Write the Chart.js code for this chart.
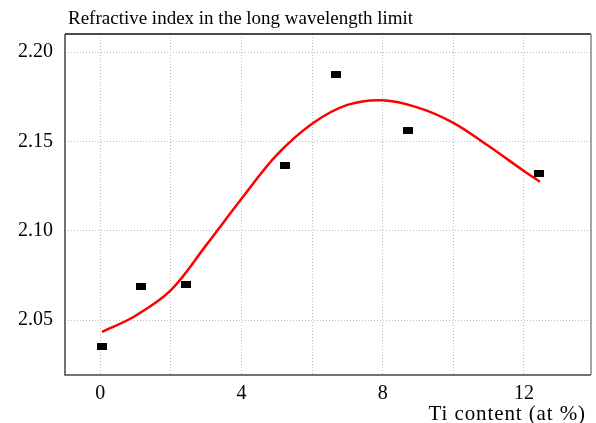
<!DOCTYPE html>
<html>
<head>
<meta charset="utf-8">
<script src="https://cdn.jsdelivr.net/npm/chart.js@4/dist/chart.umd.min.js"></script>
<style>
html,body{margin:0;padding:0;background:#fff;}
#wrap{width:596px;height:423px;position:relative;}
</style>
</head>
<body>
<div id="wrap"><canvas id="c" width="596" height="423"></canvas></div>
<script>
// Measured data points
const tiContent = [0.05, 1.16, 2.43, 5.23, 6.68, 8.71, 12.44];
const refractiveIndex = [2.035, 2.069, 2.070, 2.1365, 2.1878, 2.156, 2.132];

// Fitted curve
const fitX = [0.05, 1, 2, 3, 4, 5, 6, 7, 8, 9, 10, 11, 12, 12.45];
const fitY = [2.0434, 2.0525, 2.0668, 2.0920, 2.1180, 2.1425, 2.1600, 2.1705, 2.1731, 2.1690, 2.1605, 2.1475, 2.1335, 2.1275];

// Tick labels / grid positions
const xGridTicks = [0, 2, 4, 6, 8, 10, 12];
const xLabelTicks = [0, 4, 8, 12];
const yTicks = [2.05, 2.10, 2.15, 2.20];

const chartTitle = 'Refractive index in the long wavelength limit';
const xAxisTitle = 'Ti content (at %)';

const FONT = '"Liberation Serif", "Times New Roman", serif';

// marker: small black rectangle
const marker = document.createElement('canvas');
marker.width = 10; marker.height = 7;
(function(){ const g = marker.getContext('2d'); g.fillStyle = '#000'; g.fillRect(0,0,10,7); })();

const boxPlugin = {
  id: 'box',
  afterDraw(chart) {
    const {ctx, chartArea: a} = chart;
    ctx.save();
    ctx.setLineDash([]);
    ctx.lineWidth = 1.5;
    ctx.strokeStyle = '#444';
    ctx.beginPath();
    ctx.moveTo(a.left, a.top); ctx.lineTo(a.left, a.bottom); ctx.lineTo(a.right, a.bottom);
    ctx.stroke();
    ctx.strokeStyle = '#111';
    ctx.beginPath(); ctx.moveTo(a.left, a.top); ctx.lineTo(a.right, a.top); ctx.stroke();
    ctx.strokeStyle = '#888';
    ctx.beginPath(); ctx.moveTo(a.right, a.top); ctx.lineTo(a.right, a.bottom); ctx.stroke();
    // titles
    ctx.fillStyle = '#000';
    ctx.font = '19px ' + FONT;
    ctx.textAlign = 'left';
    ctx.textBaseline = 'alphabetic';
    ctx.fillText(chartTitle, 68, 24);
    ctx.font = '21px ' + FONT;
    try { ctx.letterSpacing = '0.9px'; } catch (e) {}
    ctx.textAlign = 'right';
    ctx.fillText(xAxisTitle, 586, 420);
    ctx.restore();
  }
};

const data = {
  datasets: [
    {
      type: 'line',
      label: 'fit',
      data: fitX.map((x, i) => ({x, y: fitY[i]})),
      borderColor: '#ff0000',
      borderWidth: 2.5,
      pointRadius: 0,
      fill: false,
      tension: 0.35,
      order: 2
    },
    {
      type: 'scatter',
      label: 'data',
      data: tiContent.map((x, i) => ({x, y: refractiveIndex[i]})),
      pointStyle: marker,
      backgroundColor: '#000',
      borderColor: '#000',
      order: 1
    }
  ]
};

new Chart(document.getElementById('c'), {
  data,
  plugins: [boxPlugin],
  options: {
    responsive: false,
    animation: false,
    events: [],
    layout: {padding: {top: 34, right: 2, left: 0, bottom: 0}},
    plugins: {legend: {display: false}, tooltip: {enabled: false}, title: {display: false}},
    scales: {
      x: {
        type: 'linear',
        min: -1, max: 13.9,
        afterBuildTicks(s) { s.ticks = xGridTicks.map(v => ({value: v})); },
        afterFit(s) { s.height = 48; },
        border: {display: false, dash: [1, 2]},
        grid: {color: '#bdbdbd', lineWidth: 1, drawTicks: false},
        ticks: {
          color: '#000',
          font: {family: FONT, size: 20},
          padding: 7,
          maxRotation: 0,
          autoSkip: false,
          callback(v) { return xLabelTicks.includes(v) ? String(v) : ''; }
        }
      },
      y: {
        type: 'linear',
        min: 2.0193, max: 2.2102,
        afterBuildTicks(s) { s.ticks = yTicks.map(v => ({value: v})); },
        afterFit(s) { s.width = 65; },
        border: {display: false, dash: [1, 2]},
        grid: {color: '#bdbdbd', lineWidth: 1, drawTicks: false},
        ticks: {
          color: '#000',
          font: {family: FONT, size: 20},
          padding: 12,
          callback(v) { return v.toFixed(2); }
        }
      }
    }
  }
});
</script>
</body>
</html>
